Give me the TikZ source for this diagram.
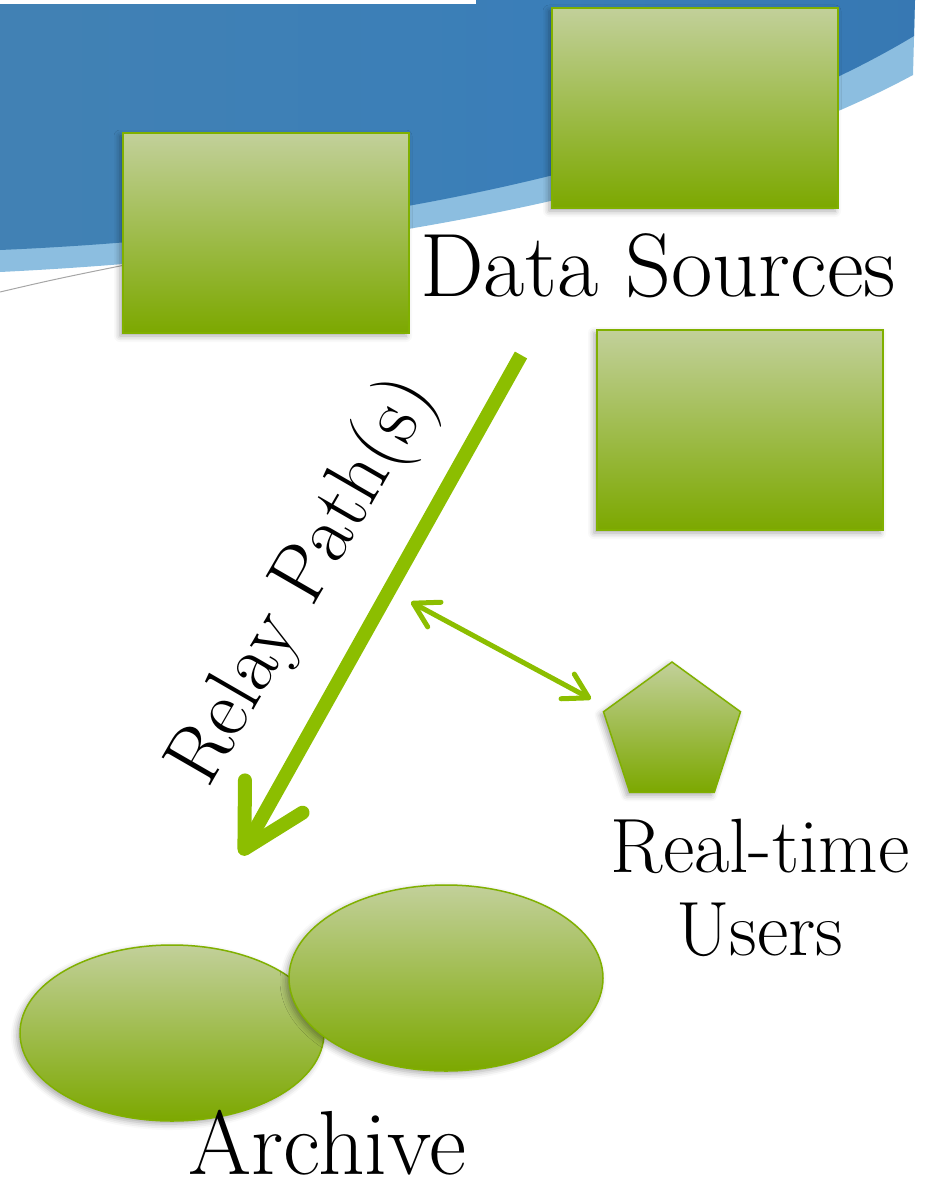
\documentclass[tikz,border=0pt]{standalone}
\usetikzlibrary{arrows.meta,shapes.geometric,shadows.blur}

\definecolor{boxtop}{RGB}{194,208,154}
\definecolor{boxbot}{RGB}{124,168,0}
\definecolor{boxedge}{RGB}{128,176,0}
\definecolor{relaygreen}{RGB}{140,190,0}
\definecolor{swooshleft}{RGB}{72,132,176}
\definecolor{swooshmid}{RGB}{58,126,184}
\definecolor{swooshright}{RGB}{28,74,136}
\definecolor{swooshlight}{RGB}{140,190,224}

\pgfdeclarehorizontalshading{swoosh}{100bp}{color(0bp)=(swooshleft); color(55bp)=(swooshmid); color(82bp)=(swooshmid!85!swooshright); color(100bp)=(swooshright)}

\newcommand{\labelfont}[2]{\fontsize{#1}{#2}\selectfont}

\begin{document}
\begin{tikzpicture}[x=1pt, y=-1pt,
  greenfill/.style={draw=boxedge, line width=1.5pt, top color=boxtop, bottom color=boxbot, inner sep=0pt,
    blur shadow={shadow xshift=-3pt, shadow yshift=-3pt, shadow blur radius=6pt, shadow opacity=35}},
  srcbox/.style={greenfill, minimum width=286pt, minimum height=200pt},
  store/.style={greenfill, ellipse},
  user/.style={greenfill, regular polygon, regular polygon sides=5, minimum size=144pt},
  tag/.style={inner sep=0pt},
  relay/.style={relaygreen, line width=14pt, -{Straight Barb[length=60pt, width=66pt, round]}},
  link/.style={relaygreen, line width=5pt, {Straight Barb[length=24pt, width=28pt, round]}-{Straight Barb[length=24pt, width=28pt, round]}}
]
\useasboundingbox (0,0) rectangle (934,1182);

% slide background
\fill[swooshlight] (0,0) -- (915,0) -- (913,75) .. controls (700,190) and (350,255) .. (0,272) -- cycle;
\shade[shading=swoosh] (0,0) -- (915,0) -- (914,36) .. controls (700,165) and (350,235) .. (0,250) -- cycle;
\fill[white] (0,0) rectangle (476,4);
\draw[gray!70, line width=1pt] (0,292) .. controls (60,278) .. (200,250);

% data sources
\node[srcbox] (src1) at (266,233) {};
\node[srcbox] (src2) at (695,108) {};
\node[srcbox] (src3) at (740,430) {};
\node[tag, anchor=base west, font={\labelfont{90}{96}}] (srclabel) at (420,296) {Data Sources};

% relay path
\coordinate (relaystart) at (521,355);
\coordinate (relayend) at (241,855);
\draw[relay] (relaystart) -- (relayend);
\node[tag, anchor=base west, rotate=60, font={\labelfont{82}{90}}] (relaylabel) at (208,790) {Relay Path(s)};

% real-time users
\node[user] (users) at (672,734) {};
\coordinate (tap) at (411,602);
\coordinate (usertip) at (591,699);
\draw[link] (tap) -- (usertip);
\node[tag, anchor=base, align=center, font={\labelfont{77}{83}}] (userlabel) at (760,955) {Real-time\\Users};

% archive
\node[store, minimum width=304pt, minimum height=176pt] (arch1) at (172,1033) {};
\node[store, minimum width=314pt, minimum height=186pt] (arch2) at (446,978) {};
\node[tag, anchor=base west, font={\labelfont{91}{96}}] (archlabel) at (188,1174) {Archive};

\end{tikzpicture}
\end{document}
